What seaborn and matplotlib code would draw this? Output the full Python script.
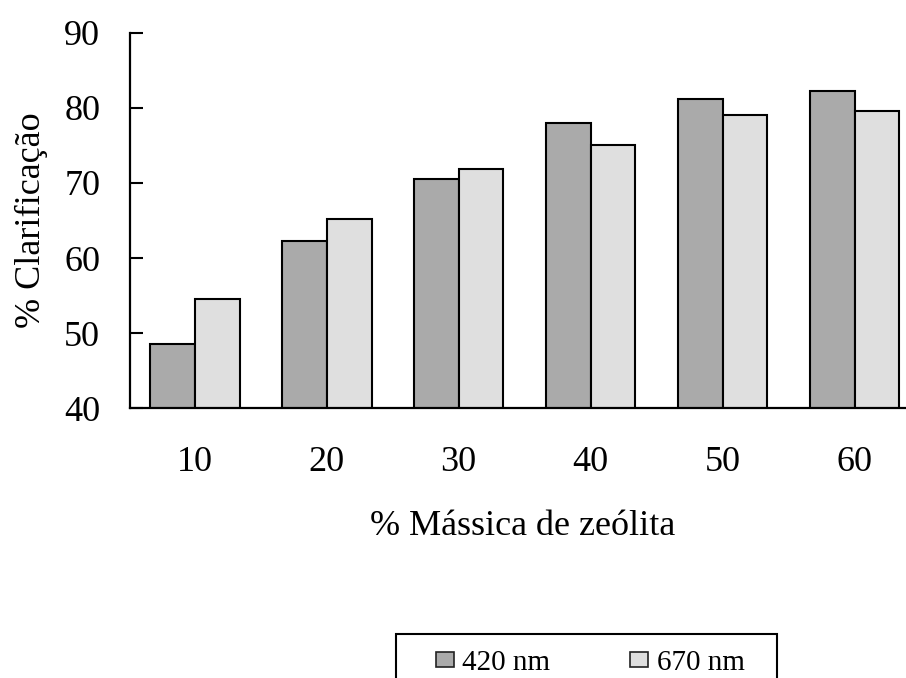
import matplotlib
matplotlib.use("Agg")
import matplotlib.pyplot as plt
from matplotlib.patches import Rectangle
import seaborn as sns
import pandas as pd

# Data: % clarification by zeolite mass fraction, at two wavelengths
massa = ["10", "20", "30", "40", "50", "60"]
clar_420 = [48.5, 62.3, 70.5, 78.0, 81.2, 82.2]
clar_670 = [54.6, 65.2, 71.9, 75.0, 79.0, 79.6]
series = ["420 nm", "670 nm"]
yticks = [40, 50, 60, 70, 80, 90]

df = pd.DataFrame({
    "massa": massa * 2,
    "clar": clar_420 + clar_670,
    "serie": [series[0]] * len(massa) + [series[1]] * len(massa),
})

sns.set_style("white")
plt.rcParams["font.family"] = ["Liberation Serif", "DejaVu Serif"]
plt.rcParams.update({
    "text.color": "black",
    "axes.labelcolor": "black",
    "xtick.color": "black",
    "ytick.color": "black",
})

W, H = 906, 678
fig = plt.figure(figsize=(W / 100, H / 100), dpi=100)
ax = fig.add_axes([130 / W, (H - 408.3) / H, 776 / W, 375.6 / H])

palette = {series[0]: "#aaaaaa", series[1]: "#dfdfdf"}
sns.barplot(data=df, x="massa", y="clar", hue="serie", order=massa,
            hue_order=series, palette=palette, width=0.68, gap=0,
            edgecolor="black", linewidth=1.5, saturation=1,
            ax=ax, legend=False)

ax.set_ylim(40, 90)
ax.set_xlim(-0.49, 5.39)
ax.set_yticks(yticks)
ax.set_yticklabels([str(t) for t in yticks])

for side in ["top", "right"]:
    ax.spines[side].set_visible(False)
for side in ["left", "bottom"]:
    ax.spines[side].set_color("black")
    ax.spines[side].set_linewidth(1.6)

ax.tick_params(axis="y", direction="in", length=9, width=1.5, color="black",
               labelcolor="black", labelsize=26, pad=21.5, left=True)
ax.tick_params(axis="x", length=0, labelsize=26, labelcolor="black", pad=27.5)

ax.set_xlabel("% Mássica de zeólita", fontsize=26, color="black")
ax.set_ylabel("% Clarificação", fontsize=26, color="black", labelpad=11.5)
ax.xaxis.set_label_coords(0.506, -0.27)

# Legend frame (extends past the lower edge of the figure)
fig.patches.append(Rectangle((396 / W, -0.1), (777 - 396) / W, 0.1 + (H - 634) / H,
                             transform=fig.transFigure, facecolor="white",
                             edgecolor="black", linewidth=1.5, zorder=5))

handles = [Rectangle((0, 0), 1, 1, facecolor=palette[s], edgecolor="#222222",
                     linewidth=1.2) for s in series]
leg = fig.legend(handles, series, loc="center left",
                 bbox_to_anchor=(436 / W, (H - 663) / H), ncol=2,
                 frameon=False, fontsize=21, borderpad=0, borderaxespad=0,
                 handlelength=0.6, handleheight=0.41, handletextpad=0.3,
                 columnspacing=2.75)
leg.set_zorder(6)
for t in leg.get_texts():
    t.set_color("black")

fig.savefig("out.png", dpi=100)
